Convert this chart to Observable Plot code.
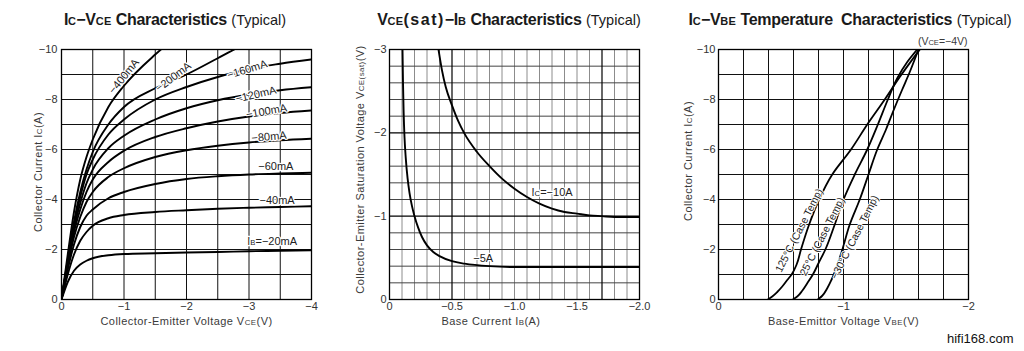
<!DOCTYPE html>
<html><head><meta charset="utf-8">
<script src="https://cdn.jsdelivr.net/npm/d3@7"></script>
<script src="https://cdn.jsdelivr.net/npm/@observablehq/plot@0.6"></script>
<style>
body{margin:0;background:#fff;}
#wrap{position:relative;width:1024px;height:351px;overflow:hidden;font-family:"Liberation Sans",Arial,sans-serif;}
.title{position:absolute;top:10px;white-space:nowrap;transform:translateX(-50%);color:#1a1a1a;font-size:16px;line-height:20px;}
.title b{font-weight:bold;letter-spacing:-0.3px;}
.title .s{font-size:11px;letter-spacing:0.3px;}
.title .n{font-weight:normal;font-size:14.5px;}
.chart{position:absolute;top:0;}
#wm{position:absolute;left:947px;top:331px;font-size:13px;color:#111;}
</style></head><body>
<div id="wrap">
<div class="title" style="left:175px"><b>I<span class="s">C</span>−V<span class="s">CE</span> Characteristics</b> <span class="n">(Typical)</span></div>
<div class="title" style="left:509px"><b>V<span class="s">CE</span><span style="letter-spacing:1.5px">(sat)</span>−I<span class="s">B</span> Characteristics</b> <span class="n">(Typical)</span></div>
<div class="title" style="left:850px"><b>I<span class="s">C</span>−V<span class="s">BE</span> Temperature&nbsp; Characteristics</b> <span class="n">(Typical)</span></div>
<div class="chart" id="c1" style="left:0px"></div>
<div class="chart" id="c2" style="left:340px"></div>
<div class="chart" id="c3" style="left:680px"></div>
<div id="wm">hifi168.com</div>
</div>
<script>
// ---------- Chart 1: Ic - Vce (values are magnitudes; drawn as negatives) ----------
const vce = [0, 0.1, 0.2, 0.3, 0.4, 0.5, 0.75, 1, 1.5, 2, 2.5, 3, 3.5, 4];
const ib20  = [0, 0.7, 1.15, 1.4, 1.55, 1.65, 1.77, 1.82, 1.85, 1.88, 1.9, 1.93, 1.95, 1.97];
const ib40  = [0, 1.0, 1.8, 2.35, 2.7, 2.95, 3.25, 3.38, 3.5, 3.57, 3.63, 3.67, 3.7, 3.73];
const ib60  = [0, 1.2, 2.2, 2.9, 3.35, 3.6, 4.05, 4.3, 4.62, 4.82, 4.93, 5.0, 5.04, 5.07];
const ib80  = [0, 1.35, 2.5, 3.3, 3.9, 4.3, 4.9, 5.25, 5.7, 5.97, 6.15, 6.28, 6.37, 6.43];
const ib100 = [0, 1.45, 2.7, 3.6, 4.3, 4.8, 5.5, 5.95, 6.5, 6.85, 7.12, 7.32, 7.46, 7.56];
const ib120 = [0, 1.5, 2.85, 3.85, 4.65, 5.2, 6.05, 6.55, 7.2, 7.65, 7.97, 8.2, 8.37, 8.49];
const ib160 = [0, 1.55, 3.0, 4.1, 5.0, 5.6, 6.6, 7.2, 8.0, 8.5, 8.9, 9.22, 9.43, 9.6];
const ib200 = [0, 1.6, 3.1, 4.3, 5.2, 5.9, 7.0, 7.7, 8.45, 9.0, 9.65, 10.3, 10.8, 11.2];
const ib400 = [0, 1.8, 3.5, 4.8, 5.7, 6.4, 7.7, 8.55, 9.8, 10.8, 11.6, 12.2, 12.7, 13.1];
const ibNames = ["−20mA","−40mA","−60mA","−80mA","−100mA","−120mA","−160mA","−200mA","−400mA"];
const ibCurves = [ib20, ib40, ib60, ib80, ib100, ib120, ib160, ib200, ib400];
// curve labels: text, Vce, Ic, angle
const lab1Text = ["I{B}=−20mA","−40mA","−60mA","−80mA","−100mA","−120mA","−160mA","−200mA","−400mA"];
const lab1V    = [3.37, 3.45, 3.43, 3.32, 3.28, 3.11, 2.97, 1.79, 1.0];
const lab1I    = [2.31, 3.97, 5.32, 6.51, 7.53, 8.2, 9.2, 8.9, 8.93];
const lab1Rot  = [0, 0, 0, -5, -10, -13, -17, -37, -51];
const ticks1X = [0, 1, 2, 3, 4];
const ticks1Y = [0, 2, 4, 6, 8, 10];
const grid1X = [0.5, 1, 1.5, 2, 2.5, 3, 3.5];
const grid1Y = [1, 2, 3, 4, 5, 6, 7, 8, 9];

// ---------- Chart 2: Vce(sat) - Ib ----------
const ib5A  = [0.104, 0.108, 0.113, 0.12, 0.13, 0.145, 0.16, 0.18, 0.2, 0.23, 0.26, 0.3, 0.35, 0.4, 0.5, 0.6, 0.8, 1.0, 1.5, 2.0];
const vs5A  = [3.0, 2.6, 2.25, 1.95, 1.7, 1.45, 1.28, 1.12, 1.0, 0.86, 0.75, 0.65, 0.57, 0.52, 0.46, 0.43, 0.4, 0.39, 0.39, 0.39];
const ib10A = [0.392, 0.42, 0.45, 0.5, 0.55, 0.6, 0.7, 0.8, 0.9, 1.0, 1.1, 1.2, 1.3, 1.4, 1.5, 1.6, 1.7, 1.8, 2.0];
const vs10A = [3.0, 2.75, 2.55, 2.33, 2.14, 1.99, 1.77, 1.6, 1.45, 1.33, 1.23, 1.15, 1.09, 1.05, 1.03, 1.01, 1.0, 0.99, 0.99];
const lab2Text = ["I{C}=−10A", "−5A"];
const lab2I = [1.30, 0.75];
const lab2V = [1.29, 0.49];
const ticks2X = [0, 0.5, 1, 1.5, 2];
const ticks2Y = [0, 1, 2, 3];
const grid2Xminor = [0.1,0.2,0.3,0.4,0.6,0.7,0.8,0.9,1.0,1.1,1.2,1.3,1.4,1.5,1.6,1.8,1.9];
const grid2Xmajor = [0.5, 1.7];
const grid2Yminor = [0.2,0.4,0.6,0.8,1.2,1.4,1.6,1.8,2.2,2.4,2.6,2.8];
const grid2Ymajor = [1, 2];

// ---------- Chart 3: Ic - Vbe temperature ----------
const t125V = [0.395, 0.43, 0.47, 0.51, 0.55, 0.585, 0.625, 0.66, 0.725, 0.805, 0.91, 1.06, 1.19, 1.33, 1.45, 1.61];
const t125I = [0, 0.12, 0.3, 0.52, 0.78, 1.0, 1.4, 2.0, 3.0, 4.0, 5.0, 6.0, 7.0, 8.0, 8.9, 10.0];
const t25V  = [0.595, 0.63, 0.67, 0.71, 0.755, 0.80, 0.855, 0.93, 1.0, 1.09, 1.19, 1.275, 1.355, 1.43, 1.51, 1.59];
const t25I  = [0, 0.12, 0.35, 0.65, 1.0, 1.45, 2.0, 3.0, 4.0, 5.0, 6.0, 7.0, 8.0, 8.85, 9.5, 10.0];
const tm30V = [0.795, 0.83, 0.87, 0.905, 0.945, 0.985, 1.05, 1.13, 1.20, 1.27, 1.34, 1.40, 1.47, 1.53, 1.60];
const tm30I = [0, 0.15, 0.45, 0.8, 1.3, 1.9, 3.0, 4.0, 5.0, 6.0, 6.8, 7.56, 8.4, 9.1, 10.0];
const lab3Text = ["125°C (Case Temp)", "25°C (Case Temp)", "−30°C (Case Temp)"];
const lab3V = [0.645, 0.83, 1.09];
const lab3I = [2.76, 2.52, 2.49];
const ticks3X = [0, 1, 2];
const ticks3Y = [0, 2, 4, 6, 8, 10];
const grid3X = [0.2, 0.4, 0.6, 0.8, 1.0, 1.2, 1.4, 1.6, 1.8];
const grid3Y = [1, 2, 3, 4, 5, 6, 7, 8, 9];

// ---------- helpers ----------
const FONT = '"Liberation Sans", Arial, sans-serif';
const fmtInt = d => d === 0 ? "0" : "−" + Math.abs(d);
const fmt1 = d => d === 0 ? "0" : "−" + Math.abs(d).toFixed(1);
const neg = a => a.map(d => -d);

// "{..}" = small (subscript-style) text, leading "^" = letter-spaced axis label
function richify(svg) {
  svg.querySelectorAll("text").forEach(t => {
    const tsp = t.querySelectorAll("tspan");
    const nodes = tsp.length ? [...tsp] : [t];
    nodes.forEach(n => {
      let s = n.textContent;
      if (s[0] === "^") { s = s.slice(1); t.setAttribute("letter-spacing", "0.45px"); n.textContent = s; }
      if (!s.includes("{")) return;
      n.textContent = "";
      s.split(/(\{[^}]*\})/).forEach(p => {
        if (!p) return;
        if (p[0] === "{") {
          const ts = document.createElementNS("http://www.w3.org/2000/svg", "tspan");
          ts.setAttribute("font-size", "0.72em");
          ts.textContent = p.slice(1, -1);
          n.appendChild(ts);
        } else n.appendChild(document.createTextNode(p));
      });
    });
  });
  return svg;
}

const xLab = {text: d => d, frameAnchor: "bottom", lineAnchor: "middle", textAnchor: "middle", dy: 22, fontSize: 11, fill: "#3a3a3a"};
const yLab = {text: d => d, frameAnchor: "left", lineAnchor: "middle", textAnchor: "middle", rotate: -90, fontSize: 11, fill: "#3a3a3a"};

// ---------- Chart 1 ----------
const rows1 = ibCurves.flatMap((c, k) => vce.map((v, i) => ({v: -v, ic: -c[i], s: ibNames[k]})));
const labs1 = lab1Text.map((t, i) => ({t, v: -lab1V[i], ic: -lab1I[i], r: lab1Rot[i]}));
const p1 = Plot.plot({
  width: 340, height: 351, marginLeft: 61, marginRight: 29, marginTop: 49, marginBottom: 52,
  style: {fontFamily: FONT, fontSize: "11px", color: "#333", background: "transparent"},
  x: {domain: [0, -4], ticks: neg(ticks1X), tickSize: 0, tickPadding: 2.5, tickFormat: fmtInt, label: null},
  y: {domain: [0, -10], ticks: neg(ticks1Y), tickSize: 0, tickPadding: 4, tickFormat: fmtInt, label: null},
  marks: [
    Plot.ruleX(neg(grid1X), {stroke: "#111", strokeWidth: 1}),
    Plot.ruleY(neg(grid1Y), {stroke: "#111", strokeWidth: 1}),
    Plot.line(rows1, {x: "v", y: "ic", z: "s", curve: "monotone-x", stroke: "#000", strokeWidth: 1.9, clip: true}),
    Plot.text(labs1, {x: "v", y: "ic", text: "t", rotate: "r", fontSize: 11, fill: "#222", stroke: "white", strokeWidth: 2.5}),
    Plot.frame({stroke: "#000", strokeWidth: 1.3}),
    Plot.text(["^Collector-Emitter Voltage V{CE}(V)"], xLab),
    Plot.text(["^Collector Current I{C}(A)"], {...yLab, dx: -23.5, dy: -2.5})
  ]
});
document.getElementById("c1").appendChild(richify(p1));

// ---------- Chart 2 ----------
const rows2 = [
  ...ib5A.map((b, i) => ({b: -b, vs: -vs5A[i], s: "5A"})),
  ...ib10A.map((b, i) => ({b: -b, vs: -vs10A[i], s: "10A"}))
];
const labs2 = lab2Text.map((t, i) => ({t, b: -lab2I[i], vs: -lab2V[i]}));
const p2 = Plot.plot({
  width: 340, height: 351, marginLeft: 49, marginRight: 41, marginTop: 49, marginBottom: 52,
  style: {fontFamily: FONT, fontSize: "11px", color: "#333", background: "transparent"},
  x: {domain: [0, -2], ticks: neg(ticks2X), tickSize: 0, tickPadding: 2.5, tickFormat: fmt1, label: null},
  y: {domain: [0, -3], ticks: neg(ticks2Y), tickSize: 0, tickPadding: 3, tickFormat: fmtInt, label: null},
  marks: [
    Plot.ruleX(neg(grid2Xminor), {stroke: "#8c8c8c", strokeWidth: 1}),
    Plot.ruleY(neg(grid2Yminor), {stroke: "#444", strokeWidth: 1}),
    Plot.ruleX(neg(grid2Xmajor), {stroke: "#000", strokeWidth: 1.2}),
    Plot.ruleY(neg(grid2Ymajor), {stroke: "#000", strokeWidth: 1.2}),
    Plot.line(rows2, {x: "b", y: "vs", z: "s", curve: "monotone-x", stroke: "#000", strokeWidth: 1.9, clip: true}),
    Plot.text(labs2, {x: "b", y: "vs", text: "t", fontSize: 11, fill: "#222", stroke: "white", strokeWidth: 2.5}),
    Plot.frame({stroke: "#000", strokeWidth: 1.3}),
    Plot.text(["^Base Current I{B}(A)"], {...xLab, dx: -23.5}),
    Plot.text(["^Collector-Emitter Saturation Voltage V{CE(sat)}(V)"], {...yLab, dx: -29, dy: -5})
  ]
});
document.getElementById("c2").appendChild(richify(p2));

// ---------- Chart 3 ----------
const rows3 = [
  ...t125V.map((v, i) => ({v: -v, ic: -t125I[i], s: "125"})),
  ...t25V.map((v, i) => ({v: -v, ic: -t25I[i], s: "25"})),
  ...tm30V.map((v, i) => ({v: -v, ic: -tm30I[i], s: "-30"}))
];
const labs3 = lab3Text.map((t, i) => ({t, v: -lab3V[i], ic: -lab3I[i]}));
const p3 = Plot.plot({
  width: 344, height: 351, marginLeft: 38, marginRight: 56, marginTop: 49, marginBottom: 52,
  style: {fontFamily: FONT, fontSize: "11px", color: "#333", background: "transparent"},
  x: {domain: [0, -2], ticks: neg(ticks3X), tickSize: 0, tickPadding: 2.5, tickFormat: fmtInt, label: null},
  y: {domain: [0, -10], ticks: neg(ticks3Y), tickSize: 0, tickPadding: 3, tickFormat: fmtInt, label: null},
  marks: [
    Plot.ruleX(neg(grid3X), {stroke: "#111", strokeWidth: 1}),
    Plot.ruleY(neg(grid3Y), {stroke: "#111", strokeWidth: 1}),
    Plot.line(rows3, {x: "v", y: "ic", z: "s", curve: "monotone-y", stroke: "#000", strokeWidth: 1.8, clip: true}),
    Plot.text(labs3, {x: "v", y: "ic", text: "t", rotate: -63, fontSize: 10.5, fill: "#222", stroke: "white", strokeWidth: 2}),
    Plot.frame({stroke: "#000", strokeWidth: 1.3}),
    Plot.text(["(V{CE}=−4V)"], {text: d => d, frameAnchor: "top-right", lineAnchor: "middle", textAnchor: "end", dx: -1, dy: -8, fontSize: 10.5, fill: "#3a3a3a"}),
    Plot.text(["^Base-Emittor Voltage V{BE}(V)"], xLab),
    Plot.text(["^Collector Current I{C}(A)"], {...yLab, dx: -30, dy: -13.5})
  ]
});
document.getElementById("c3").appendChild(richify(p3));
</script>
</body></html>
